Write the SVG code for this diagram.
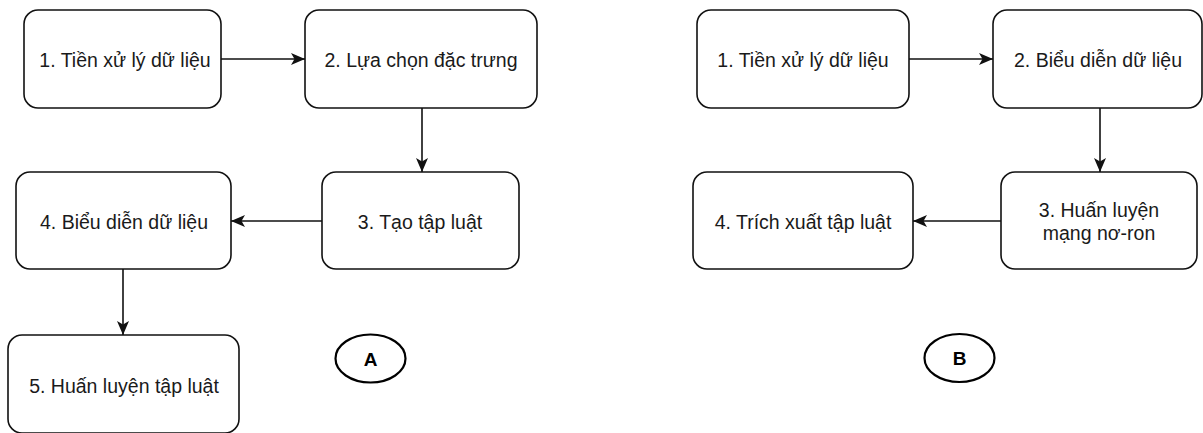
<svg xmlns="http://www.w3.org/2000/svg" width="1203" height="433" viewBox="0 0 1203 433">
<style>
.box{fill:#fff;stroke:#111;stroke-width:1.6}
.lbl{font-family:"Liberation Sans",Arial,"DejaVu Sans",sans-serif;font-size:19.5px;fill:#1a1a1a;text-anchor:middle}
.tag{font-family:"Liberation Sans",Arial,sans-serif;font-size:19px;font-weight:bold;fill:#000;text-anchor:middle}
.ell{fill:#fff;stroke:#000;stroke-width:2.2}
.edge{fill:none;stroke:#111;stroke-width:1.6;marker-end:url(#arr)}
</style>
<defs>
<marker id="arr" viewBox="0 0 14 12" refX="14" refY="6" markerWidth="14" markerHeight="12" markerUnits="userSpaceOnUse" orient="auto">
<path d="M0,0 L14,6 L0,12 L3.5,6 Z" fill="#111"/>
</marker>
</defs>
<rect width="1203" height="433" fill="#fff"/>
<g id="connectors">
<path class="edge" d="M221,59 H305"/>
<path class="edge" d="M422,108 V172"/>
<path class="edge" d="M322,221 H231"/>
<path class="edge" d="M123,269 V335"/>
<path class="edge" d="M909,59 H993"/>
<path class="edge" d="M1100,108 V172"/>
<path class="edge" d="M1001,221 H913"/>
</g>
<g id="a1"><rect class="box" x="24" y="10" width="197" height="98" rx="14"/><text class="lbl" x="125" y="66.5">1. Tiền xử lý dữ liệu</text></g>
<g id="a2"><rect class="box" x="305" y="10" width="232" height="98" rx="14"/><text class="lbl" x="421" y="66.5">2. Lựa chọn đặc trưng</text></g>
<g id="a3"><rect class="box" x="322" y="172" width="197" height="97" rx="14"/><text class="lbl" x="420" y="229">3. Tạo tập luật</text></g>
<g id="a4"><rect class="box" x="16" y="172" width="215" height="97" rx="14"/><text class="lbl" x="124" y="229">4. Biểu diễn dữ liệu</text></g>
<g id="a5"><rect class="box" x="8" y="335" width="231" height="98" rx="14"/><text class="lbl" x="124" y="392.5">5. Huấn luyện tập luật</text></g>
<g id="labelA"><ellipse class="ell" cx="370.5" cy="358.5" rx="35" ry="24"/><text class="tag" x="370.5" y="365.5">A</text></g>
<g id="b1"><rect class="box" x="697" y="10" width="212" height="98" rx="14"/><text class="lbl" x="803" y="66.5">1. Tiền xử lý dữ liệu</text></g>
<g id="b2"><rect class="box" x="993" y="10" width="209" height="98" rx="14"/><text class="lbl" x="1098" y="66.5">2. Biểu diễn dữ liệu</text></g>
<g id="b3"><rect class="box" x="1001" y="172" width="196" height="97" rx="14"/><text class="lbl" x="1099" y="216.5">3. Huấn luyện</text><text class="lbl" x="1099" y="240">mạng nơ-ron</text></g>
<g id="b4"><rect class="box" x="693" y="172" width="220" height="97" rx="14"/><text class="lbl" x="803" y="229">4. Trích xuất tập luật</text></g>
<g id="labelB"><ellipse class="ell" cx="959.5" cy="358" rx="35" ry="24"/><text class="tag" x="959.5" y="365">B</text></g>
</svg>
